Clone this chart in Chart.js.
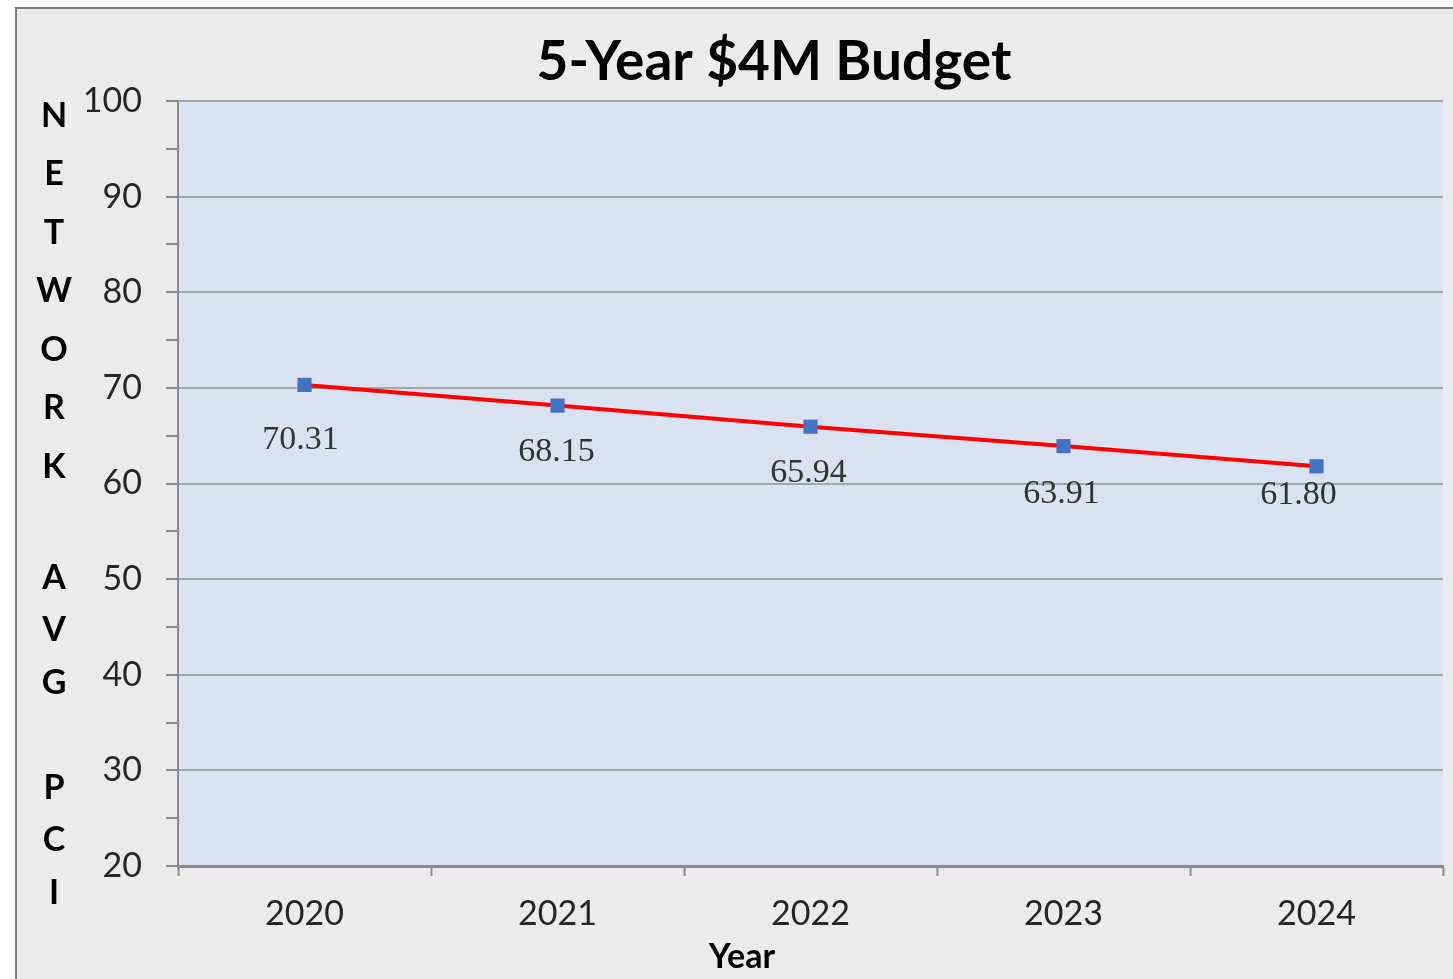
<!DOCTYPE html>
<html>
<head>
<meta charset="utf-8">
<script src="https://cdn.jsdelivr.net/npm/chart.js@4.4.1/dist/chart.umd.min.js"></script>
<style>
    html, body { margin: 0; padding: 0; background: #ffffff; }
    #wrap { position: relative; width: 1453px; height: 979px; }
</style>
</head>
<body>
<div id="wrap"><canvas id="budgetChart" width="1453" height="979"></canvas></div>
<script>

// ---------------- DATA ----------------

const years = ["2020", "2021", "2022", "2023", "2024"];
const avgPci = [70.31, 68.15, 65.94, 63.91, 61.80];
const pciLabels = ["70.31", "68.15", "65.94", "63.91", "61.80"];

const yMin = 20;
const yMax = 100;
const yStep = 5;

const axisTitleLetters = ["N", "E", "T", "W", "O", "R", "K", "", "A", "V", "G", "", "P", "C", "I"];

// label nudges (pixels) relative to each point
const labelNudge = [[-4, 55], [-1, 47], [-2, 46], [-2, 48], [-18, 29]];

// ---------------- PLUGINS ----------------

const frame = {
    id: "frame",
    beforeDraw(chart) {
        const ctx = chart.ctx;
        const a = chart.chartArea;
        ctx.save();
        ctx.fillStyle = "#ebebeb";
        ctx.fillRect(15, 7, chart.width - 15, chart.height - 7);
        ctx.strokeStyle = "#7a7a7a";
        ctx.lineWidth = 2;
        ctx.beginPath();
        ctx.moveTo(16, chart.height);
        ctx.lineTo(16, 8);
        ctx.lineTo(chart.width, 8);
        ctx.stroke();
        ctx.fillStyle = "#d9e2f1";
        ctx.fillRect(a.left, a.top, a.right - a.left, a.bottom - a.top);
        ctx.restore();
    }
};

const extras = {
    id: "extras",
    afterDraw(chart) {
        const ctx = chart.ctx;
        ctx.save();

        // title
        ctx.fillStyle = "#000000";
        ctx.font = "bold 55px Lato";
        ctx.textAlign = "center";
        ctx.textBaseline = "middle";
        ctx.fillText("5-Year $4M Budget", 774, 62);

        // x axis title
        ctx.font = "bold 34px Lato";
        ctx.fillText("Year", 742, 957);

        // stacked y axis title
        ctx.font = "bold 34px Lato";
        let y = 116;
        axisTitleLetters.forEach((ch, i) => {
            if (ch) ctx.fillText(ch, 54, y);
            y += i < 7 ? 58.5 : 52.5;
        });

        // point labels
        const meta = chart.getDatasetMeta(0);
        ctx.font = "34px 'Liberation Serif'";
        ctx.fillStyle = "#333333";
        meta.data.forEach((pt, i) => {
            ctx.fillText(pciLabels[i], pt.x + labelNudge[i][0], pt.y + labelNudge[i][1]);
        });

        ctx.restore();
    }
};

// ---------------- CHART ----------------

new Chart(
    document.getElementById("budgetChart"),
    {
        type: "line",

        data: {
            labels: years,
            datasets: [{
                data: avgPci,
                borderColor: "#ff0000",
                borderWidth: 4,
                pointStyle: "rect",
                pointRadius: 10,
                pointBackgroundColor: "#4472c4",
                pointBorderColor: "#4472c4",
                pointBorderWidth: 0,
                tension: 0,
                fill: false
            }]
        },

        options: {
            responsive: false,
            animation: false,
            layout: {
                padding: { top: 101, right: 9, bottom: 0, left: 0 }
            },
            plugins: {
                legend: { display: false },
                title: { display: false },
                tooltip: { enabled: false }
            },
            scales: {
                x: {
                    offset: true,
                    grid: {
                        offset: true,
                        drawOnChartArea: false,
                        tickLength: 10,
                        tickColor: "#8c8c8c",
                        tickWidth: 2
                    },
                    border: { color: "#8c8c8c", width: 3 },
                    ticks: {
                        color: "#262626",
                        font: { family: "Lato", size: 34 },
                        padding: 18
                    },
                    afterFit(scale) { scale.height = 113; }
                },
                y: {
                    min: yMin,
                    max: yMax,
                    grid: {
                        color: ctx => (ctx.tick && ctx.tick.value % 10 === 0) ? "#a6a6a6" : "rgba(0,0,0,0)",
                        lineWidth: 2,
                        tickLength: 12,
                        tickColor: "#8c8c8c",
                        tickWidth: 2
                    },
                    border: { color: "#8c8c8c", width: 2 },
                    ticks: {
                        stepSize: yStep,
                        color: "#262626",
                        font: { family: "Lato", size: 34 },
                        padding: 24,
                        callback: v => v % 10 === 0 ? v : ""
                    },
                    afterFit(scale) { scale.width = 178; }
                }
            }
        },

        plugins: [frame, extras]
    }
);

</script>
</body>
</html>
